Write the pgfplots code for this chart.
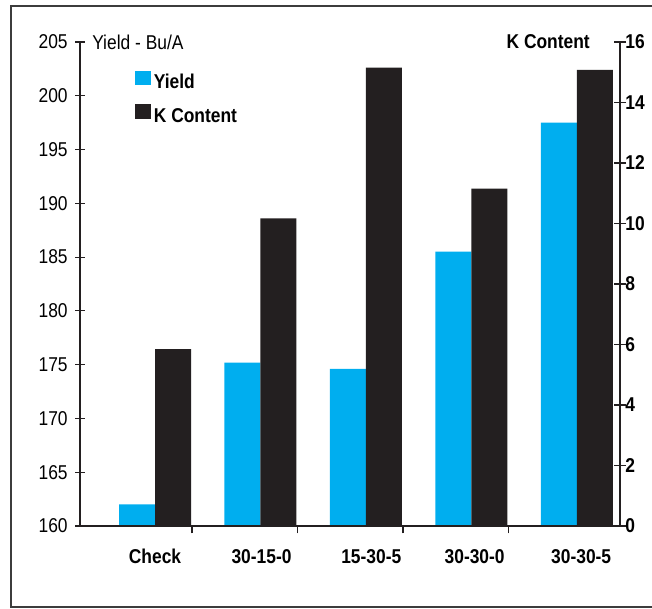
\documentclass[border=0pt]{standalone}
\usepackage{pgfplots}
\pgfplotsset{compat=1.18}
\usepackage{fontspec}
\setmainfont[FakeStretch=0.87]{Liberation Sans}

\definecolor{yieldblue}{HTML}{00AEEF}
\definecolor{kblack}{HTML}{231F20}
\definecolor{framegray}{HTML}{3C3C3C}

% 1 px of the reference = 0.75pt
\pgfplotsset{
  chartbox/.style={
    at={(0,0)}, anchor=south west,
    scale only axis, width=405pt, height=363pt,
    xmin=-0.711, xmax=4.408,
    axis line style={kblack, line width=0.9pt, -},
    tick style={kblack, line width=0.9pt},
    /pgf/number format/assume math mode=true,
    clip=false,
  },
}

\begin{document}
\begin{tikzpicture}[font=\fontsize{15}{18}\selectfont]
\useasboundingbox (-60pt,-62.25pt) rectangle (429pt,394.5pt);
\draw[framegray, line width=1.3pt] (432pt,390pt) -- (-51.75pt,390pt) -- (-51.75pt,-60.75pt) -- (432pt,-60.75pt);

% left axis: yield
\begin{axis}[chartbox,
  ymin=160, ymax=205,
  hide x axis,
  axis y line*=left,
  ytick={160,165,...,205},
  tick align=center,
  major tick length=7.5pt,
  y tick label style={xshift=-2pt},
]
\addplot[ybar, bar width=27pt, bar shift=-13.5pt, fill=yieldblue, draw=none]
  coordinates {(0,162.0) (1,175.2) (2,174.6) (3,185.5) (4,197.5)};
\node[anchor=west, inner sep=0pt, xshift=9pt] at (rel axis cs:0,1) {Yield - Bu/A};
\end{axis}

% right axis: K content
\begin{axis}[chartbox,
  ymin=0, ymax=16,
  hide x axis,
  axis y line*=right,
  ytick={0,2,...,16},
  tick align=center,
  major tick length=9pt,
  y tick label style={font=\fontsize{15}{18}\selectfont\bfseries, xshift=-4pt},
  legend cell align=left,
  legend style={at={(rel axis cs:0.102,0.941)}, anchor=north west,
    draw=none, fill=none, inner sep=0pt, row sep=9.5pt, column sep=2.25pt,
    nodes={inner sep=0pt, font=\fontsize{15}{18}\selectfont\bfseries}},
]
\addlegendimage{legend image code/.code={\fill[yieldblue] (0pt,-1pt) rectangle (11.25pt,8.75pt);}}
\addlegendentry{Yield}
\addlegendimage{legend image code/.code={\fill[kblack] (0pt,-1pt) rectangle (11.25pt,9.5pt);}}
\addlegendentry{K Content}
\addplot[ybar, bar width=27pt, bar shift=13.5pt, fill=kblack, draw=none, forget plot]
  coordinates {(0,5.85) (1,10.17) (2,15.15) (3,11.15) (4,15.08)};
\node[anchor=east, inner sep=0pt, xshift=-22.5pt, font=\fontsize{15}{18}\selectfont\bfseries] at (rel axis cs:1,1) {K Content};
\end{axis}

% category axis
\begin{axis}[chartbox,
  ymin=0, ymax=1,
  hide y axis,
  axis x line*=bottom,
  xtick={0.35,1.35,2.35,3.35},
  xticklabels={},
  tick align=outside,
  major tick length=5.5pt,
  extra x ticks={0,1.01,2.05,3.03,4.04},
  extra x tick labels={Check,30-15-0,15-30-5,30-30-0,30-30-5},
  extra x tick style={major tick length=0pt,
    tick label style={font=\fontsize{15}{18}\selectfont\bfseries, yshift=-14pt}},
]
\end{axis}
\end{tikzpicture}
\end{document}
